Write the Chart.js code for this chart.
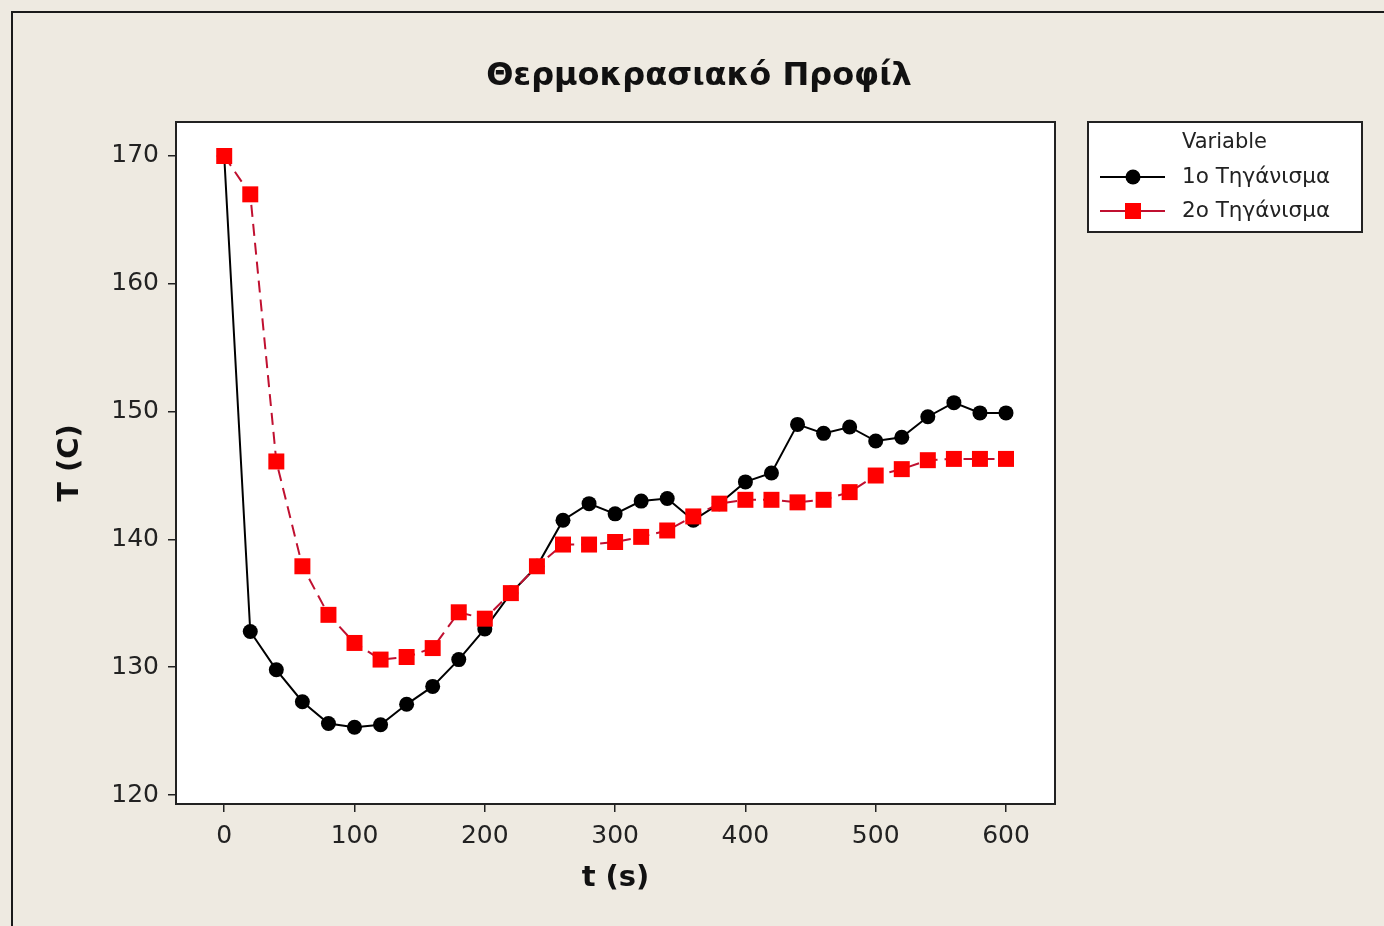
<!DOCTYPE html>
<html>
<head>
<meta charset="utf-8">
<script src="https://cdn.jsdelivr.net/npm/chart.js@4.4.1/dist/chart.umd.min.js"></script>
<style>
  html, body { margin: 0; padding: 0; background: #eeeae1; }
  #wrap { position: absolute; left: 0; top: 0; width: 1384px; height: 926px; }
</style>
</head>
<body>
<div id="wrap"><canvas id="c" width="1384" height="926"></canvas></div>
<script>
// Time samples (s)
const times = [0, 20, 40, 60, 80, 100, 120, 140, 160, 180, 200, 220, 240, 260, 280, 300,
               320, 340, 360, 380, 400, 420, 440, 460, 480, 500, 520, 540, 560, 580, 600];
// 1st frying temperature (C)
const fry1 = [170.0, 132.8, 129.8, 127.3, 125.6, 125.3, 125.5, 127.1, 128.5, 130.6, 133.0,
              135.8, 137.9, 141.5, 142.8, 142.0, 143.0, 143.2, 141.5, 142.8, 144.5, 145.2,
              149.0, 148.3, 148.8, 147.7, 148.0, 149.6, 150.7, 149.9, 149.9];
// 2nd frying temperature (C)
const fry2 = [170.0, 167.0, 146.1, 137.9, 134.1, 131.9, 130.6, 130.8, 131.5, 134.3, 133.8,
              135.8, 137.9, 139.6, 139.6, 139.8, 140.2, 140.7, 141.8, 142.8, 143.1, 143.1,
              142.9, 143.1, 143.7, 145.0, 145.5, 146.2, 146.3, 146.3, 146.3];
const xTicks = [0, 100, 200, 300, 400, 500, 600];
const yTicks = [120, 130, 140, 150, 160, 170];
const seriesNames = ['1ο Τηγάνισμα', '2ο Τηγάνισμα'];
const chartTitle = 'Θερμοκρασιακό Προφίλ';
const xTitle = 't (s)';
const yTitle = 'T (C)';
const legendTitle = 'Variable';

const FONT = '"DejaVu Sans", Verdana, sans-serif';

// Background, outer frame, plot frame, titles and the legend box
const decor = {
  id: 'decor',
  beforeDraw(chart) {
    const ctx = chart.ctx;
    ctx.save();
    ctx.fillStyle = '#eeeae1';
    ctx.fillRect(0, 0, chart.width, chart.height);
    ctx.strokeStyle = '#1a1a1a';
    ctx.lineWidth = 2;
    ctx.beginPath();
    ctx.moveTo(12, chart.height);
    ctx.lineTo(12, 12);
    ctx.lineTo(chart.width, 12);
    ctx.stroke();
    const a = chart.chartArea;
    ctx.fillStyle = '#ffffff';
    ctx.fillRect(a.left, a.top, a.right - a.left, a.bottom - a.top);
    ctx.restore();
  },
  afterDraw(chart) {
    const ctx = chart.ctx;
    const a = chart.chartArea;
    ctx.save();
    ctx.strokeStyle = '#222';
    ctx.lineWidth = 2;
    ctx.strokeRect(a.left, a.top, a.right - a.left, a.bottom - a.top);

    ctx.fillStyle = '#111';
    ctx.textAlign = 'center';
    ctx.textBaseline = 'middle';
    ctx.font = 'bold 32px ' + FONT;
    ctx.fillText(chartTitle, 699, 77);

    ctx.font = 'bold 29px ' + FONT;
    ctx.fillText(xTitle, (a.left + a.right) / 2, 878);
    ctx.save();
    ctx.translate(70, 463);
    ctx.rotate(-Math.PI / 2);
    ctx.fillText(yTitle, 0, 0);
    ctx.restore();

    // legend
    const lx = 1088, ly = 122, lw = 274, lh = 110;
    ctx.fillStyle = '#ffffff';
    ctx.fillRect(lx, ly, lw, lh);
    ctx.strokeStyle = '#222';
    ctx.lineWidth = 2;
    ctx.strokeRect(lx, ly, lw, lh);
    ctx.fillStyle = '#222';
    ctx.font = '21px ' + FONT;
    ctx.textAlign = 'left';
    ctx.fillText(legendTitle, 1182, 143);
    chart.data.datasets.forEach((ds, i) => {
      const y = 177 + i * 34;
      ctx.save();
      ctx.strokeStyle = ds.borderColor;
      ctx.lineWidth = ds.borderWidth;
      ctx.setLineDash([]);
      ctx.beginPath();
      ctx.moveTo(1100, y);
      ctx.lineTo(1165, y);
      ctx.stroke();
      ctx.fillStyle = ds.pointBackgroundColor;
      if (ds.pointStyle === 'rect') {
        ctx.fillRect(1133 - 8, y - 8, 16, 16);
      } else {
        ctx.beginPath();
        ctx.arc(1133, y, 7.5, 0, Math.PI * 2);
        ctx.fill();
      }
      ctx.restore();
      ctx.fillStyle = '#222';
      ctx.font = '21.5px ' + FONT;
      ctx.fillText(ds.label, 1182, y);
    });
    ctx.restore();
  }
};

new Chart(document.getElementById('c'), {
  type: 'line',
  data: {
    datasets: [
      {
        label: seriesNames[0],
        data: times.map((t, i) => ({ x: t, y: fry1[i] })),
        borderColor: '#000000',
        borderWidth: 2,
        pointStyle: 'circle',
        pointRadius: 7.5,
        pointBackgroundColor: '#000000',
        pointBorderWidth: 0,
        tension: 0,
        order: 1
      },
      {
        label: seriesNames[1],
        data: times.map((t, i) => ({ x: t, y: fry2[i] })),
        borderColor: '#c01030',
        borderWidth: 2,
        borderDash: [12, 7],
        pointStyle: 'rect',
        pointRadius: 11.3,
        pointBackgroundColor: '#ff0000',
        pointBorderWidth: 0,
        tension: 0,
        order: 0
      }
    ]
  },
  options: {
    responsive: false,
    animation: false,
    events: [],
    layout: { padding: { left: 0, top: 122, right: 329, bottom: 0 } },
    plugins: { legend: { display: false }, title: { display: false }, tooltip: { enabled: false } },
    scales: {
      x: {
        type: 'linear',
        min: -37,
        max: 637.6,
        afterBuildTicks: s => { s.ticks = xTicks.map(v => ({ value: v })); },
        afterFit: s => { s.height = 122; },
        grid: { display: true, drawOnChartArea: false, drawTicks: true, tickLength: 8, color: '#222', lineWidth: 1.5 },
        border: { display: true, color: '#222', width: 2 },
        ticks: { color: '#222', font: { family: FONT, size: 25 }, padding: 9, maxRotation: 0, autoSkip: false }
      },
      y: {
        type: 'linear',
        min: 119.3,
        max: 172.66,
        afterBuildTicks: s => { s.ticks = yTicks.map(v => ({ value: v })); },
        afterFit: s => { s.width = 176; },
        grid: { display: true, drawOnChartArea: false, drawTicks: true, tickLength: 8, color: '#222', lineWidth: 1.5 },
        border: { display: true, color: '#222', width: 2 },
        ticks: { color: '#222', font: { family: FONT, size: 25 }, padding: 9, autoSkip: false }
      }
    }
  },
  plugins: [decor]
});
</script>
</body>
</html>
